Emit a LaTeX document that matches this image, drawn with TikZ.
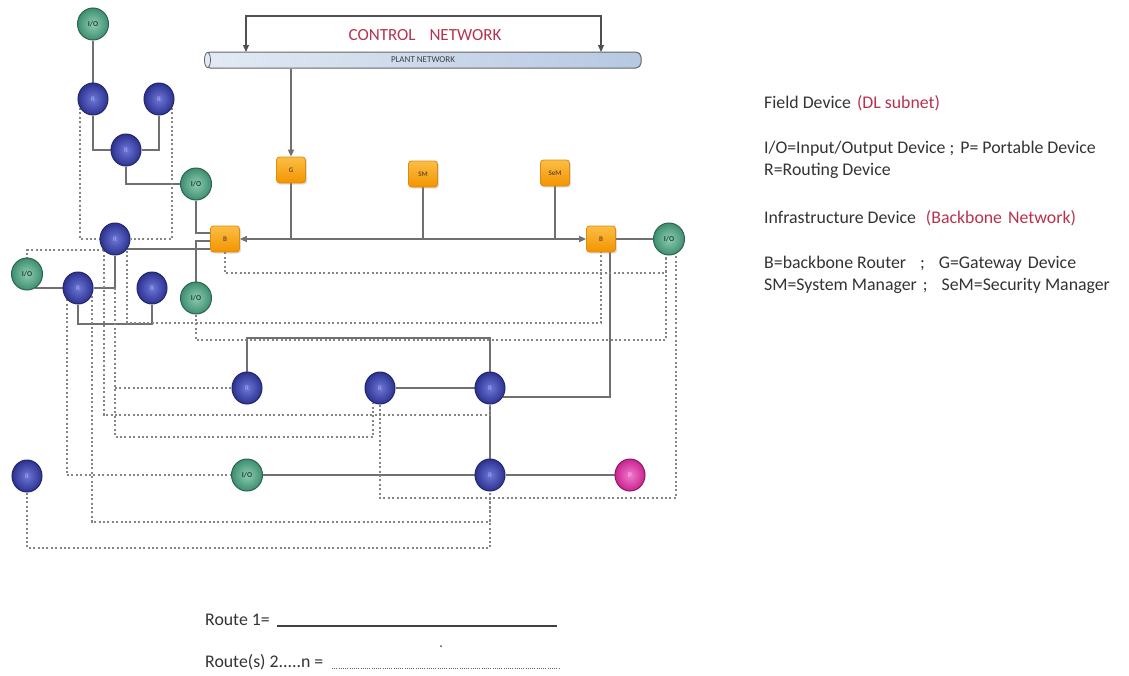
\documentclass[tikz,border=0pt]{standalone}
\usepackage{fontspec}
\setmainfont{Carlito}
\usetikzlibrary{arrows.meta,shapes.geometric,shadows}

\definecolor{wirec}{HTML}{707070}
\definecolor{dotc}{HTML}{858585}
\definecolor{ctrlc}{HTML}{505050}
\definecolor{routerin}{HTML}{6E78D8}
\definecolor{routerout}{HTML}{2C3290}
\definecolor{routerline}{HTML}{23286A}
\definecolor{ioin}{HTML}{8FCDB2}
\definecolor{ioout}{HTML}{3E8E70}
\definecolor{ioline}{HTML}{2C6350}
\definecolor{boxtop}{HTML}{FBBE45}
\definecolor{boxbot}{HTML}{F39400}
\definecolor{boxline}{HTML}{DD8A10}
\definecolor{pin}{HTML}{F27ACD}
\definecolor{pout}{HTML}{C8258F}
\definecolor{accent}{HTML}{B8324F}
\definecolor{legendc}{HTML}{333333}
\definecolor{tubeleft}{HTML}{E2EAF4}
\definecolor{tuberight}{HTML}{B6C8E2}

\pgfdeclarelayer{bg}
\pgfsetlayers{bg,main}

\begin{document}
\begin{tikzpicture}[x=1pt,y=-1pt,
  wire/.style={draw=wirec, line width=1.7pt},
  link/.style={draw=dotc, line width=2pt, dash pattern=on 2pt off 2.4pt},
  ctrl/.style={draw=ctrlc, line width=1.2pt},
  tip/.style={-{Triangle[length=7pt,width=6pt]}},
  twotips/.style={{Triangle[length=7pt,width=6pt]}-{Triangle[length=7pt,width=6pt]}},
  router/.style={ellipse, minimum width=30pt, minimum height=32pt, inner sep=0pt,
    draw=routerline, line width=1pt, inner color=routerin, outer color=routerout,
    text=routerin!60!white, font=\fontsize{7}{7}\selectfont},
  iodev/.style={ellipse, minimum width=31pt, minimum height=32pt, inner sep=0pt,
    draw=ioline, line width=1pt, inner color=ioin, outer color=ioout,
    text=ioline!70!black, font=\fontsize{7.5}{7.5}\selectfont\bfseries},
  portable/.style={ellipse, minimum width=30pt, minimum height=32pt, inner sep=0pt,
    draw=pout!70!black, line width=1pt, inner color=pin, outer color=pout,
    text=pin!40!white, font=\fontsize{7}{7}\selectfont},
  infra/.style={rectangle, rounded corners=3pt, minimum width=29pt, minimum height=26pt,
    inner sep=1pt, draw=boxline, line width=0.8pt, top color=boxtop, bottom color=boxbot,
    drop shadow={opacity=0.25, shadow xshift=1.5pt, shadow yshift=-1.5pt},
    text=brown!60!black, font=\fontsize{7}{7}\selectfont\bfseries},
  tube/.style={rectangle, rounded corners=5pt, minimum width=436pt, minimum height=16pt,
    inner sep=0pt, draw=gray!80!black, line width=1pt, left color=tubeleft, right color=tuberight,
    text=black!75, font=\fontsize{9}{9}\selectfont},
  legend/.style={anchor=west, inner sep=0pt, text=legendc, font=\fontsize{17.8}{17.8}\selectfont},
]
\useasboundingbox (0,0) rectangle (1129,675);
\begin{pgfonlayer}{bg}
  \fill[white] (0,0) rectangle (1129,675);
\end{pgfonlayer}

% networks at the top
\node[tube] (plant) at (423,60) {PLANT NETWORK};
\draw[gray!80!black, line width=0.8pt, fill=tubeleft] (plant.west) ++(3,0) ellipse (3 and 7.5);
\node[text=accent, font=\fontsize{17}{17}\selectfont, inner sep=0pt] (ctrltxt) at (425,35) {CONTROL\hspace{14pt}NETWORK};
\coordinate (ca) at (246,52);
\coordinate (cb) at (601,52);

% devices
\node[iodev]  (io1) at (93,24)   {I/O};
\node[router] (r1)  at (93,99)   {R};
\node[router] (r2)  at (159,99)  {R};
\node[router] (r3)  at (126,150) {R};
\node[iodev]  (io2) at (196,184) {I/O};
\node[infra]  (g)   at (291,170) {G};
\node[infra]  (sm)  at (423,174) {SM};
\node[infra]  (sem) at (555,173) {SeM};
\node[infra]  (b1)  at (225,239) {B};
\node[infra]  (b2)  at (601,239) {B};
\node[iodev]  (io3) at (669,239) {I/O};
\node[router] (r4)  at (115,239) {R};
\node[iodev]  (io4) at (27,274)  {I/O};
\node[router] (r5)  at (78,288)  {R};
\node[router] (r6)  at (152,288) {R};
\node[iodev]  (io5) at (196,298) {I/O};
\node[router] (r7)  at (247,388) {R};
\node[router] (r8)  at (380,388) {R};
\node[router] (r9)  at (490,388) {R};
\node[router] (r10) at (27,476)  {R};
\node[iodev]  (io6) at (247,475) {I/O};
\node[router] (r11) at (490,475) {R};
\node[portable] (p) at (630,475) {P};

\coordinate (j4) at (127,251);

\begin{pgfonlayer}{bg}
  % control network loop and plant link
  \draw[ctrl, twotips] (ca) -- (ca |- 0,16) -- (cb |- 0,16) -- (cb);
  \draw[wire, tip] (plant.south -| g.north) -- (g.north);

  % backbone
  \draw[wire, twotips] (b1.east) -- (b2.west);
  \draw[wire] (g.south) -- (g.south |- b1.east);
  \draw[wire] (sm.south) -- (sm.south |- b1.east);
  \draw[wire] (sem.south) -- (sem.south |- b1.east);
  \draw[wire] (b2) -- (io3);

  % field device links
  \draw[wire] (io1.south) -- (r1.north);
  \draw[wire] (r1.south) |- (r3.west);
  \draw[wire] (r2.south) |- (r3.east);
  \draw[wire] (r3.south) |- (io2.west);
  \draw[wire] (io2.south) |- ([yshift=6pt]b1.west);
  \draw[wire] (io5.north) |- ([yshift=-2pt]b1.west);
  \draw[wire] (r4.-40) -- (r4.-40 -| b1.west);
  \draw[wire] (r4.south) |- (r5.east);
  \draw[wire] (io4.-60) -- (io4.-60 -| r5.west);
  \draw[wire] (r5.south) -- (r5.south |- 0,324) -| (r6.south);
  \draw[wire] (r7.north) -- (r7.north |- 0,338) -| (r9.north);
  \draw[wire] (r8) -- (r9);
  \draw[wire] (r9.-35) -| ([xshift=9pt]b2.south);
  \draw[wire] (r9.south) -- (r11.north);
  \draw[wire] (io6) -- (r11);
  \draw[wire] (r11) -- (p);

  % redundant routes
  \draw[link] (r1.-145) |- (r4.west);
  \draw[link] (r2.-35) |- (r4.east);
  \draw[link] (r4.-135) -| (io4.north);
  \draw[link] (r4.-135) -- (r4.-135 |- 0,415) -| (r9.south);
  \draw[link] (r4.south |- r5.east) -- (r4.south |- 0,437) -| (r8.-115);
  \draw[link] (r4.south |- r7.west) -- (r7.west);
  \draw[link] (j4) -- (j4 |- 0,323) -| (b2.south);
  \draw[link] (r5.-30) -- (r5.-30 |- 0,522) -| (r11.south);
  \draw[link] (r5.-135) |- (io6.west);
  \draw[link] (r10.south) -- (r10.south |- 0,548) -| (r11.south);
  \draw[link] (b1.south) -- (b1.south |- 0,273) -| (io3.-100);
  \draw[link] (io5.south) -- (io5.south |- 0,340) -| (io3.-100);
  \draw[link] (r8.south) -- (r8.south |- 0,498) -| (io3.-65);
\end{pgfonlayer}

% legend
\node[legend] (l1) at (764,103) {Field Device\hspace{6pt}\textcolor{accent}{(DL subnet)}};
\node[legend] (l2) at (764,149) {I/O=Input/Output Device ;\hspace{6pt}P= Portable Device};
\node[legend] (l3) at (764,171) {R=Routing Device};
\node[legend] (l4) at (764,218) {Infrastructure Device\hspace{10pt}\textcolor{accent}{(Backbone\hspace{6pt}Network)}};
\node[legend] (l5) at (764,264) {B=backbone Router\hspace{14pt};\hspace{14pt}G=Gateway\hspace{6pt}Device};
\node[legend] (l6) at (764,286) {SM=System Manager\hspace{6pt};\hspace{14pt}SeM=Security Manager};

% route lines
\node[legend] (rt1) at (205,620) {Route 1=};
\node[legend] (rt2) at (205,662) {Route(s) 2.....n =};
\coordinate (u1a) at (277,626);
\coordinate (u1b) at (557,626);
\coordinate (u2a) at (332,668);
\coordinate (u2b) at (560,668);
\draw[black!75, line width=1.3pt] (u1a) -- (u1b);
\draw[black!60, line width=0.9pt, dash pattern=on 0.9pt off 1.3pt] (u2a) -- (u2b);
\fill[black!70] (441,646) circle (1pt);
\end{tikzpicture}
\end{document}
